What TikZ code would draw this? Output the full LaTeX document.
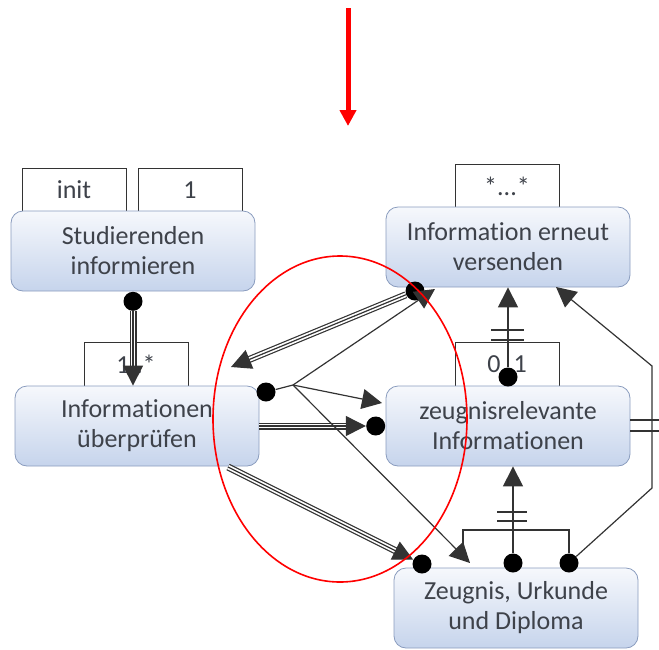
\documentclass[tikz,border=0pt]{standalone}
\usepackage{fontspec}
\setmainfont{Carlito}[Ligatures=NoCommon]
\usepackage{xcolor}
\usepackage{tikz}
\usetikzlibrary{arrows.meta}

\definecolor{boxtop}{RGB}{246,248,252}
\definecolor{boxbot}{RGB}{198,212,236}
\definecolor{boxline}{RGB}{138,156,190}
\definecolor{txtgray}{RGB}{62,66,74}

\tikzset{
  activity/.style={draw=boxline, rounded corners=6pt, top color=boxtop, bottom color=boxbot,
    align=center, minimum width=122pt, minimum height=40pt,
    font=\fontsize{13}{15}\selectfont, text=txtgray},
  labelbox/.style={draw=black!80, fill=white, minimum width=52pt, minimum height=22pt,
    font=\fontsize{13}{15}\selectfont, text=txtgray},
  dot/.style={circle, fill=black, inner sep=0pt, minimum size=9.5pt},
  triple/.style={draw=black!80, line width=0.6pt, double distance=2.3pt, shorten >=8pt},
  tip/.style={draw=black!80, line width=0.6pt, -{Triangle[length=10pt,width=10pt]}},
  tick/.style={draw=black!80, line width=0.6pt}
}

\begin{document}
\begin{tikzpicture}[x=0.5pt,y=-0.5pt]
  \useasboundingbox (0,0) rectangle (659,649);

  % label boxes on top of the activities
  \node[labelbox] (linit) at (74,190) {init};
  \node[labelbox] (lone) at (190,190) {1};
  \node[labelbox] (lstar) at (507,186) {*...*};
  \node[labelbox] (lmany) at (136,364) {1..*};
  \node[labelbox] (lopt) at (507,364) {0..1};

  % activities
  \node[activity] (stud) at (133,251) {Studierenden\\informieren};
  \node[activity] (erneut) at (508,247) {Information erneut\\versenden};
  \node[activity] (pruef) at (137,426) {Informationen\\überprüfen};
  \node[activity] (zeug) at (508,426) {zeugnisrelevante\\Informationen};
  \node[activity] (diplom) at (516,608) {Zeugnis, Urkunde\\und Diploma};

  % dots
  \node[dot, anchor=north] (d1) at (stud.south) {};
  \node[dot] (d2) at (415,291) {};
  \node[dot] (d3) at (266,392) {};
  \node[dot, anchor=east] (d4) at (zeug.west) {};
  \node[dot] (d5) at (422,564) {};
  \node[dot] (d6) at (508,377) {};
  \node[dot] (d7) at (513,563) {};
  \node[dot] (d8) at (569,563) {};

  \coordinate (fan) at (293,385);
  \coordinate (t2) at (231,367);
  \coordinate (t3) at (435,289);
  \coordinate (t4) at (382,403);
  \coordinate (t5) at (470,563);
  \coordinate (k1) at (652,488);
  \coordinate (k2) at (652,366);
  \coordinate (t8) at (556,287);

  % triple connectors
  \draw[triple] (d1) -- (d1 |- pruef.north);
  \draw[tip] (d1) -- (d1 |- pruef.north);
  \draw[triple] (d2) -- (t2);
  \draw[tip] (d2) -- (t2);
  \draw[triple] (pruef.east) -- (d4.west);
  \draw[tip] (pruef.east) -- (d4.west);
  \draw[triple] (228,467) -- (d5);
  \draw[tip] (228,467) -- (d5);

  % fan out from Informationen
  \draw[tick] (d3) -- (fan);
  \draw[tip] (fan) -- (t3);
  \draw[tip] (fan) -- (t4);
  \draw[tip] (fan) -- (t5);

  % vertical links with ticks
  \draw[tip] (d6) -- (d6 |- erneut.south);
  \draw[tick] (491,330) -- (524,330);
  \draw[tick] (491,340) -- (524,340);
  \draw[tip] (d7) -- (d7 |- zeug.south);
  \draw[tick] (497,512) -- (527,512);
  \draw[tick] (497,521) -- (527,521);
  \draw[tick] (463,559) |- (569,530) -- (d8);

  % outer link on the right
  \draw[tip] (d8) -- (k1) -- (k2) -- (t8);
  \draw[tick] (zeug.east |- 0,420) -- (659,420);
  \draw[tick] (zeug.east |- 0,431) -- (659,431);

  % red marks
  \draw[red, line width=2.5pt, -{Triangle[length=8pt,width=8pt]}] (348,8) -- (348,126);
  \draw[red, line width=0.8pt] (340,419) ellipse [x radius=127, y radius=163];
\end{tikzpicture}
\end{document}
